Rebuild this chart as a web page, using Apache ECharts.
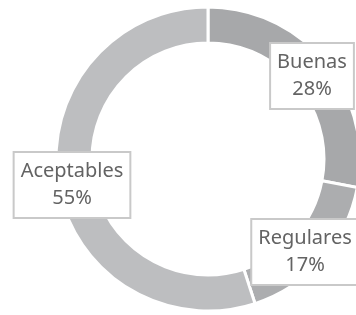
<!DOCTYPE html>
<html>
<head>
<meta charset="utf-8">
<script src="https://cdn.jsdelivr.net/npm/echarts@6/dist/echarts.min.js"></script>
<style>
  html, body { margin: 0; padding: 0; background: #fff; }
  #chart { width: 356px; height: 315px; }
</style>
</head>
<body>
<div id="chart"></div>
<script>
// 数据
var categories = ['Buenas', 'Regulares', 'Aceptables'];
var values = [28, 17, 55];
var colors = ['#a7a8aa', '#acadaf', '#bdbec0'];

// 标签位置（中心点）
var labelPos = [[312, 76], [305, 252], [72, 185]];

var myChart = echarts.init(document.getElementById('chart'));

var option = {
	animation : false,
	color : colors,
	series : [ {
		type : 'pie',
		center : [ 208, 159 ],
		radius : [ 116, 152 ],
		startAngle : 90,
		clockwise : true,
		itemStyle : {
			borderColor : '#fff',
			borderWidth : 3
		},
		label : {
			show : true,
			position : 'inside',
			overflow : 'none',
			formatter : '{b}\n{d}%',
			fontFamily : 'Noto Sans',
			fontSize : 20,
			lineHeight : 27,
			color : '#636363',
			backgroundColor : '#fff',
			borderColor : '#c9c9c9',
			borderWidth : 2,
			padding : [ 5, 6 ],
			align : 'center'
		},
		labelLine : {
			show : false
		},
		labelLayout : function(params) {
			var p = labelPos[params.dataIndex];
			return {
				x : p[0],
				y : p[1],
				align : 'center',
				verticalAlign : 'middle'
			};
		},
		emphasis : {
			disabled : true
		},
		data : categories.map(function(c, i) {
			return {
				name : c,
				value : values[i]
			};
		})
	} ]
};

myChart.setOption(option);
</script>
</body>
</html>
